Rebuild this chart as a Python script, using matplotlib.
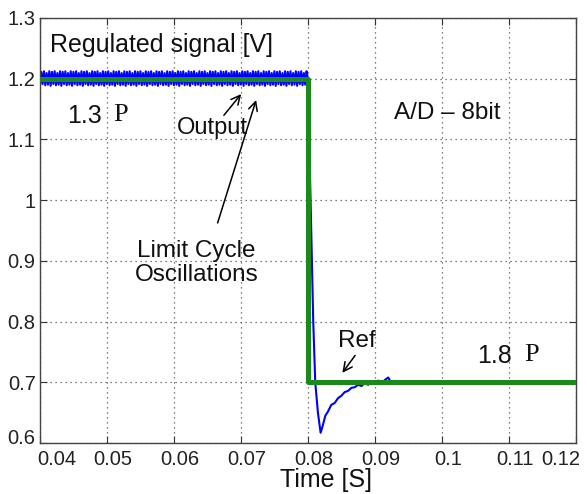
import numpy as np
import matplotlib.pyplot as plt
from matplotlib.transforms import ScaledTranslation

# --- data ---
# limit cycle oscillation levels of the output before the step (repeats)
lc_levels = [1.188, 1.211, 1.191, 1.212, 1.189, 1.209, 1.19, 1.212]
lc_start, lc_end, lc_step = 0.04, 0.08, 0.0002

# transient of the output after the reference step
tr_time = [0.0800, 0.0803, 0.0806, 0.0808, 0.0811, 0.0815, 0.0819, 0.0822,
           0.0826, 0.0830, 0.0835, 0.0840, 0.0845, 0.0850, 0.0855, 0.0860,
           0.0865, 0.0870, 0.0875, 0.0880, 0.0885, 0.0890, 0.0895, 0.0900,
           0.0905, 0.0910, 0.0915, 0.0920, 0.0925, 0.0930, 0.0935, 0.1200]
tr_value = [1.200, 1.050, 0.900, 0.800, 0.700, 0.650, 0.617, 0.628,
            0.645, 0.652, 0.663, 0.666, 0.674, 0.678, 0.684, 0.686,
            0.691, 0.692, 0.696, 0.694, 0.699, 0.696, 0.702, 0.697,
            0.703, 0.698, 0.704, 0.708, 0.698, 0.702, 0.700, 0.700]

# reference signal
ref_time = [0.04, 0.08, 0.08, 0.12]
ref_value = [1.2, 1.2, 0.7, 0.7]

xticks = [0.04, 0.05, 0.06, 0.07, 0.08, 0.09, 0.1, 0.11, 0.12]
xticklabels = ['0.04', '0.05', '0.06', '0.07', '0.08', '0.09', '0.1', '0.11', '0.12']
yticks = [0.6, 0.7, 0.8, 0.9, 1.0, 1.1, 1.2, 1.3]
yticklabels = ['0.6', '0.7', '0.8', '0.9', '1', '1.1', '1.2', '1.3']

# --- build output series ---
lc_time = np.arange(lc_start, lc_end, lc_step)
lc_value = [lc_levels[i % len(lc_levels)] for i in range(len(lc_time))]
out_time = list(lc_time) + tr_time
out_value = lc_value + tr_value

plt.rcParams['font.family'] = ['Liberation Sans', 'DejaVu Sans']
txt = '#111111'

fig = plt.figure(figsize=(5.87, 4.94), dpi=100)
ax = fig.add_axes([0.068, 0.103, 0.913, 0.861])

ax.plot(out_time, out_value, color='#0000ff', lw=1.5, zorder=2)
ax.plot(ref_time, ref_value, color='#1a8a1a', lw=3.6, zorder=3)

ax.set_xlim(0.04, 0.12)
ax.set_ylim(0.6, 1.3)
ax.set_xticks(xticks)
ax.set_xticklabels(xticklabels)
ax.set_yticks(yticks)
ax.set_yticklabels(yticklabels)
ax.tick_params(direction='in', top=True, right=True, labelsize=14.5,
               length=5, colors='#333333', labelcolor='#222222', pad=5)
ax.tick_params(axis='y', pad=3)
ax.grid(True, linestyle=(0, (1, 3)), color='#555555', lw=0.9)
for s in ax.spines.values():
    s.set_color('#444444')
    s.set_linewidth(1.0)

# matlab-like label placement: x labels nudged right, ends kept inside
xlabs = ax.get_xticklabels()
for i, lab in enumerate(xlabs):
    dx = 6
    if i == 0:
        lab.set_ha('left')
        dx = -3
    elif i == len(xlabs) - 1:
        lab.set_ha('right')
        dx = 4
    lab.set_transform(lab.get_transform() + ScaledTranslation(dx / 100, 0, fig.dpi_scale_trans))
ylab0 = ax.get_yticklabels()[0]
ylab0.set_transform(ylab0.get_transform() + ScaledTranslation(0, 7 / 100, fig.dpi_scale_trans))

ax.text(0.5335, -0.087, 'Time [S]', transform=ax.transAxes, ha='center',
        va='center', fontsize=18, color=txt)

ax.text(0.0415, 1.255, 'Regulated signal [V]', fontsize=18, va='center',
        ha='left', color=txt)
ax.text(0.0440, 1.138, '1.3', fontsize=18, va='center', ha='left', color=txt)
ax.text(0.0510, 1.140, 'P', fontsize=19, va='center', ha='left',
        family='Liberation Serif', color=txt)
ax.text(0.0658, 1.118, 'Output', fontsize=17, va='center', ha='center', color=txt)
ax.text(0.1008, 1.143, 'A/D \u2013 8bit', fontsize=17.5, va='center', ha='center',
        color=txt)
ax.text(0.0634, 0.897, 'Limit Cycle\nOscillations', fontsize=17.5, va='center',
        ha='center', linespacing=1.1, color=txt)
ax.text(0.0873, 0.768, 'Ref', fontsize=17.5, va='center', ha='center', color=txt)
ax.text(0.1053, 0.743, '1.8', fontsize=18, va='center', ha='left', color=txt)
ax.text(0.1123, 0.745, 'P', fontsize=19, va='center', ha='left',
        family='Liberation Serif', color=txt)

arrow = dict(arrowstyle='->', color='black', lw=1.1, mutation_scale=16)
ax.annotate('', xy=(0.0703, 1.178), xytext=(0.0672, 1.136), arrowprops=arrow)
ax.annotate('', xy=(0.0724, 1.169), xytext=(0.0664, 0.958), arrowprops=arrow)
ax.annotate('', xy=(0.0849, 0.712), xytext=(0.0873, 0.748), arrowprops=arrow)

fig.savefig('out.png', dpi=100)
